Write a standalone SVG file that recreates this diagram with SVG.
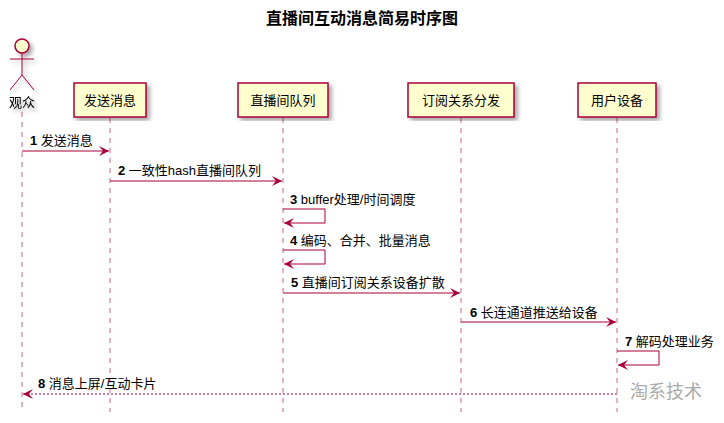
<svg xmlns="http://www.w3.org/2000/svg" width="724" height="423" viewBox="0 0 724 423">
<style>
text{font-family:"Liberation Sans","Noto Sans CJK SC",sans-serif;font-size:13px;fill:#000}
.box{fill:#FEFECE;stroke:#A80036;stroke-width:1.5}
.life{stroke:#A80036;stroke-width:1;stroke-dasharray:5,5;opacity:.6}
.msg{stroke:#A80036;stroke-width:1;fill:none}
.n{font-weight:bold}
</style>
<defs>
<marker id="ah" viewBox="0 0 10 10" refX="10" refY="5" markerWidth="10" markerHeight="10" orient="auto" markerUnits="userSpaceOnUse"><path d="M0,0 L10,5 L0,10 L4,5 Z" fill="#A80036"/></marker>
<filter id="sh"><feDropShadow dx="3" dy="3" stdDeviation="2" flood-opacity=".35"/></filter>
</defs>
<rect width="724" height="423" fill="#fff"/>
<text x="362" y="24" text-anchor="middle" style="font-size:16px;font-weight:bold">直播间互动消息简易时序图</text>
<g id="lifelines">
<line class="life" x1="22" y1="112" x2="22" y2="412"/>
<line class="life" x1="110" y1="118" x2="110" y2="412"/>
<line class="life" x1="283" y1="118" x2="283" y2="412"/>
<line class="life" x1="461" y1="118" x2="461" y2="412"/>
<line class="life" x1="617" y1="118" x2="617" y2="412"/>
</g>
<g id="actor" filter="url(#sh)">
<circle cx="22" cy="46" r="7" class="box"/>
<path d="M22,53 V75 M10,59 H34 M10,90 L22,75 L34,90" class="msg" stroke-width="1.5"/>
<text x="22" y="107" text-anchor="middle">观众</text>
</g>
<g id="n1"><rect class="box" x="74" y="83" width="72" height="34" filter="url(#sh)"/><text x="110" y="105" text-anchor="middle">发送消息</text></g>
<g id="n2"><rect class="box" x="238" y="83" width="90" height="34" filter="url(#sh)"/><text x="283" y="105" text-anchor="middle">直播间队列</text></g>
<g id="n3"><rect class="box" x="408" y="83" width="106" height="34" filter="url(#sh)"/><text x="461" y="105" text-anchor="middle">订阅关系分发</text></g>
<g id="n4"><rect class="box" x="578" y="83" width="78" height="34" filter="url(#sh)"/><text x="617" y="105" text-anchor="middle">用户设备</text></g>
<g id="connectors">
<line class="msg" x1="22" y1="151" x2="109" y2="151" marker-end="url(#ah)"/>
<text x="30" y="145"><tspan class="n">1</tspan> 发送消息</text>
<line class="msg" x1="110" y1="181" x2="282" y2="181" marker-end="url(#ah)"/>
<text x="118" y="175"><tspan class="n">2</tspan> 一致性hash直播间队列</text>
<path class="msg" d="M283,209 H325 V223 H284" marker-end="url(#ah)"/>
<text x="290" y="204"><tspan class="n">3</tspan> buffer处理/时间调度</text>
<path class="msg" d="M283,250 H325 V264 H284" marker-end="url(#ah)"/>
<text x="290" y="245"><tspan class="n">4</tspan> 编码、合并、批量消息</text>
<line class="msg" x1="283" y1="293" x2="460" y2="293" marker-end="url(#ah)"/>
<text x="291" y="287"><tspan class="n">5</tspan> 直播间订阅关系设备扩散</text>
<line class="msg" x1="461" y1="322" x2="616" y2="322" marker-end="url(#ah)"/>
<text x="470" y="317"><tspan class="n">6</tspan> 长连通道推送给设备</text>
<path class="msg" d="M617,351 H659 V365 H618" marker-end="url(#ah)"/>
<text x="625" y="346"><tspan class="n">7</tspan> 解码处理业务</text>
<line class="msg" x1="617" y1="394" x2="23" y2="394" stroke-dasharray="2,2" marker-end="url(#ah)"/>
<text x="38" y="388"><tspan class="n">8</tspan> 消息上屏/互动卡片</text>
</g>
<text x="630" y="398" style="font-size:18px;fill:#aaa">淘系技术</text>
</svg>
